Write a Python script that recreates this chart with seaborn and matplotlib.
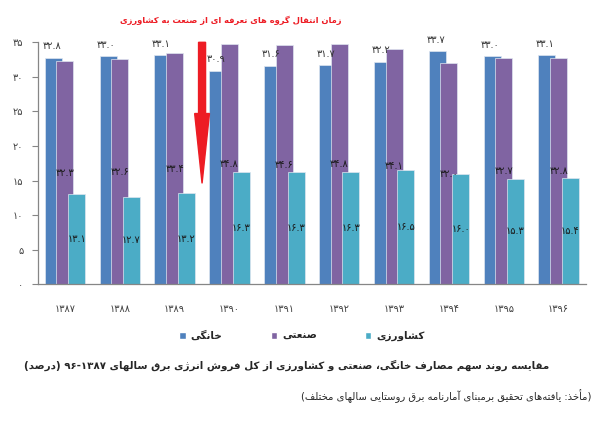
import re

import numpy as np
import pandas as pd
import seaborn as sns
from matplotlib import pyplot as plt
from matplotlib.patches import Patch

years = ['۱۳۸۷', '۱۳۸۸', '۱۳۸۹', '۱۳۹۰', '۱۳۹۱', '۱۳۹۲', '۱۳۹۳', '۱۳۹۴', '۱۳۹۵', '۱۳۹۶']
household = [32.8, 33.0, 33.1, 30.9, 31.6, 31.7, 32.2, 33.7, 33.0, 33.1]
industry = [32.3, 32.6, 33.4, 34.8, 34.6, 34.8, 34.1, 32.0, 32.7, 32.8]
agriculture = [13.1, 12.7, 13.2, 16.3, 16.3, 16.3, 16.5, 16.0, 15.3, 15.4]
series_names = ['خانگی', 'صنعتی', 'کشاورزی']
y_ticks = [0, 5, 10, 15, 20, 25, 30, 35]

arrow_note = 'زمان انتقال گروه های تعرفه ای از صنعت به کشاورزی'
caption = 'مقایسه روند سهم مصارف خانگی، صنعتی و کشاورزی از کل فروش انرژی برق سالهای ۹۶-۱۳۸۷ (درصد)'
source = '(مأخذ: یافته‌های تحقیق برمبنای آمارنامه برق روستایی سالهای مختلف)'

colors = ['#4F81BD', '#8064A2', '#4BACC6']

# matplotlib has no arabic shaping, so do a small one by hand
# right-joining letters: (isolated, final); dual-joining: base codepoint
FORMS = {
    'ا': (0xFE8D, 0xFE8E), 'أ': (0xFE83, 0xFE84), 'آ': (0xFE81, 0xFE82),
    'د': (0xFEA9, 0xFEAA), 'ذ': (0xFEAB, 0xFEAC), 'ر': (0xFEAD, 0xFEAE),
    'ز': (0xFEAF, 0xFEB0), 'ژ': (0xFB8A, 0xFB8B), 'و': (0xFEED, 0xFEEE),
    'ب': 0xFE8F, 'پ': 0xFB56, 'ت': 0xFE95, 'ح': 0xFEA1, 'خ': 0xFEA5,
    'س': 0xFEB1, 'ش': 0xFEB5, 'ص': 0xFEB9, 'ع': 0xFEC9, 'ف': 0xFED1,
    'ق': 0xFED5, 'ک': 0xFB8E, 'گ': 0xFB92, 'ل': 0xFEDD, 'م': 0xFEE1,
    'ن': 0xFEE5, 'ه': 0xFEE9, 'ی': 0xFBFC,
}
NUM = r'[0-9۰-۹][0-9۰-۹.\-]*'
MIRROR = str.maketrans('()', ')(')


def shape(text):
    out = []
    for i, ch in enumerate(text):
        f = FORMS.get(ch)
        if f is None:
            out.append(ch)
            continue
        prev = text[i - 1] if i > 0 else ''
        nxt = text[i + 1] if i + 1 < len(text) else ''
        join_prev = isinstance(FORMS.get(prev), int)
        if isinstance(f, int):
            join_next = nxt in FORMS
            out.append(chr(f + {(False, False): 0, (True, False): 1,
                                (False, True): 2, (True, True): 3}[(join_prev, join_next)]))
        else:
            out.append(chr(f[1] if join_prev else f[0]))
    return ''.join(out).replace('\u200c', '')


def fa(text):
    parts = re.split(f'({NUM})', shape(text))
    return ''.join(p if re.fullmatch(NUM, p) else p[::-1].translate(MIRROR)
                   for p in reversed(parts))


def fa_num(v):
    return str(v).translate(str.maketrans('0123456789', '۰۱۲۳۴۵۶۷۸۹'))


sns.set_style('white')
plt.rcParams['font.family'] = ['DejaVu Sans']

fig = plt.figure(figsize=(6.07, 4.43), dpi=100)
ax = fig.add_axes([0.0618, 0.3582, 0.9036, 0.5463])

pos = np.arange(len(years))
offsets = [-0.213, 0.0, 0.213]
for vals, off, c in zip([household, industry, agriculture], offsets, colors):
    df = pd.DataFrame({'x': pos + off, 'y': vals})
    sns.barplot(data=df, x='x', y='y', native_scale=True, width=0.31, color=c,
                saturation=1, errorbar=None, edgecolor='#dfe6f0', linewidth=0.5, ax=ax)

for i in range(len(years)):
    ax.text(pos[i] + offsets[0] - 0.03, household[i] + 1.65, fa_num(household[i]),
            ha='center', va='center', fontsize=7, color='#333333')
    ax.text(pos[i] + offsets[1], industry[i] / 2, fa_num(industry[i]),
            ha='center', va='center', fontsize=7, color='#1a1a1a')
    ax.text(pos[i] + offsets[2], agriculture[i] / 2, fa_num(agriculture[i]),
            ha='center', va='center', fontsize=7, color='#1a1a1a')

ax.set_xlim(-0.5, len(years) - 0.5)
ax.set_ylim(0, 35)
ax.set_xlabel('')
ax.set_ylabel('')
ax.set_xticks(np.arange(-0.5, len(years), 1.0))
ax.set_xticklabels([])
ax.set_xticks(pos, minor=True)
ax.set_xticklabels(years, minor=True)
ax.tick_params(axis='x', which='major', length=4, color='#868686', direction='out')
ax.tick_params(axis='x', which='minor', length=0, pad=14, labelsize=7, labelcolor='#404040')
ax.set_yticks(y_ticks)
ax.set_yticklabels([fa_num(t) for t in y_ticks])
ax.tick_params(axis='y', length=4, color='#868686', direction='out', pad=6,
               labelsize=7, labelcolor='#404040', left=True)
sns.despine(ax=ax)
for s in ['left', 'bottom']:
    ax.spines[s].set_color('#868686')
    ax.spines[s].set_linewidth(0.9)

# red arrow between 1389 and 1390
ax.arrow(2.5, 35, 0, -20.4, width=0.128, head_width=0.27, head_length=10.1,
         length_includes_head=True, color='#ED1C24', zorder=5, clip_on=False)
fig.text(231 / 607, 1 - 20 / 443, fa(arrow_note), color='#ED1C24', fontsize=6.0,
         fontweight='bold', ha='center', va='center')

handles = [Patch(facecolor=c) for c in colors]
fig.legend(handles, [fa(n) for n in series_names], loc='center',
           bbox_to_anchor=(302 / 607, 1 - 336 / 443), ncol=3, frameon=False,
           prop={'weight': 'bold', 'size': 7.5}, handlelength=0.6, handleheight=0.6,
           handletextpad=0.5, columnspacing=4.6)

fig.text(287 / 607, 1 - 365 / 443, fa(caption), fontsize=7.4, fontweight='bold',
         ha='center', va='center')
fig.text(591 / 607, 1 - 396 / 443, fa(source), fontsize=7.2,
         ha='right', va='center')

fig.savefig('out.png', dpi=100)
